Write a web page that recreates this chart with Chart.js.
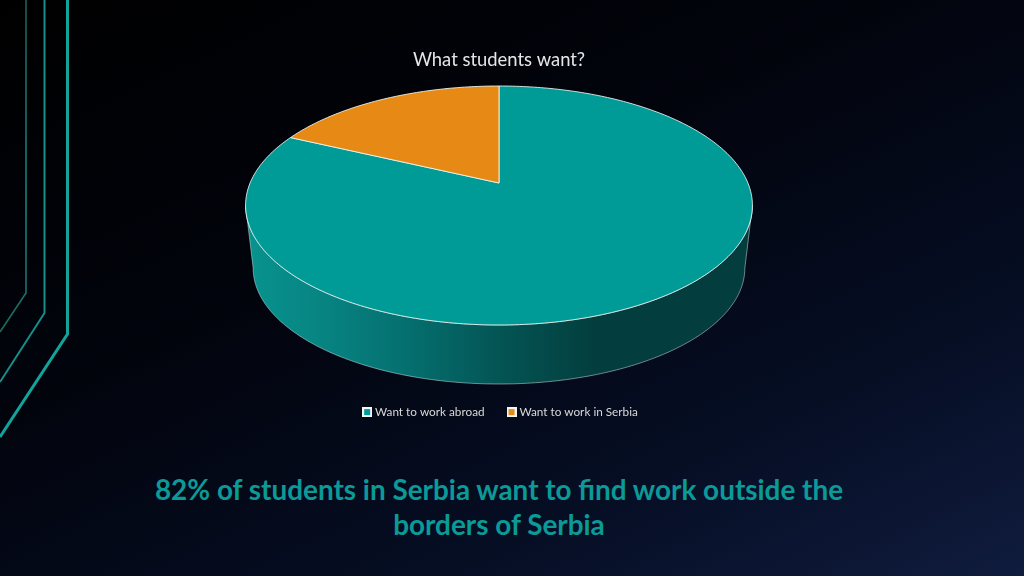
<!DOCTYPE html>
<html>
<head>
<meta charset="utf-8">
<title>What students want?</title>
<script src="https://cdn.jsdelivr.net/npm/chart.js@4"></script>
<style>
    html, body { margin: 0; padding: 0; width: 1024px; height: 576px; overflow: hidden; }
    body { position: relative; background: linear-gradient(155deg, #000000 0%, #02040d 40%, #060e24 74%, #101c3e 100%); }
    #lines { position: absolute; left: 0; top: 0; }
    #pie { position: absolute; left: 0; top: 0; }
    #note {
        position: absolute; left: 99px; top: 472px; width: 800px; text-align: center;
        font: bold 27.9px/35px Lato, sans-serif; color: #0b9a97;
    }
</style>
</head>
<body>
<svg id="lines" width="100" height="450" fill="none">
    <defs>
        <linearGradient id="innerLine" x1="0" y1="0" x2="0" y2="1">
            <stop offset="0" stop-color="#1d5f57"/>
            <stop offset="0.6" stop-color="#15807c"/>
            <stop offset="1" stop-color="#1d6a5e"/>
        </linearGradient>
    </defs>
    <polyline points="26,0 26,293 0,332" stroke="url(#innerLine)" stroke-width="1.6"/>
    <polyline points="44.5,0 44.5,313 0,382" stroke="#148f8a" stroke-width="2"/>
    <polyline points="67.5,0 67.5,334 0,437" stroke="#12a39b" stroke-width="3"/>
</svg>
<canvas id="pie" width="998" height="428"></canvas>
<div id="note">82% of students in Serbia want to find work outside the<br>borders of Serbia</div>
<script>
const categories = ['Want to work abroad', 'Want to work in Serbia'];
const shares = [82, 18];
const sliceColors = ['#009a97', '#e68a15'];
const chartTitle = 'What students want?';

// camera used to tilt the flat pie: circle (u,v) -> screen, far side gets smaller
const apexY = 183, halfW = 248.9, halfH = 115.26, tilt = 0.1883;
// bottom rim of the wall
const rimScale = 0.97, rimDrop = 62.6, rimMidY = 205.5;

function project(cx, angle) {
    const u = Math.cos(angle), v = -Math.sin(angle), w = 1 + tilt * v;
    return { x: cx + halfW * u / w, y: apexY - halfH * v / w };
}

function rimPoint(cx, p) {
    return { x: cx + (p.x - cx) * rimScale, y: rimMidY + (p.y - rimMidY) * rimScale + rimDrop };
}

// legend swatch: white frame round the slice colour
function swatch(color) {
    const c = document.createElement('canvas');
    c.width = 10;
    c.height = 10;
    const g = c.getContext('2d');
    g.fillStyle = '#f4f6f6';
    g.fillRect(0, 0, 10, 10);
    g.fillStyle = color;
    g.fillRect(2, 2, 6, 6);
    return c;
}

const tiltedPie = {
    id: 'tiltedPie',
    afterLayout(chart) {
        chart.legend.left += 5;
    },
    beforeDatasetsDraw(chart) {
        const ctx = chart.ctx;
        const arcs = chart.getDatasetMeta(0).data;
        const cx = arcs[0].x;
        const steps = 180;

        // angles of the screen left/right extremes of the tilted circle
        const side = Math.asin(tilt);
        const from = Math.PI - side, to = side;

        // front wall
        const top = [], bottom = [];
        for (let i = 0; i <= steps; i++) {
            const p = project(cx, from + (to - from) * i / steps);
            top.push(p);
            bottom.push(rimPoint(cx, p));
        }
        const wall = ctx.createLinearGradient(cx - 250, 0, cx + 100, 0);
        wall.addColorStop(0, '#08928e');
        wall.addColorStop(0.2, '#078583');
        wall.addColorStop(0.45, '#056f6f');
        wall.addColorStop(0.72, '#045454');
        wall.addColorStop(1, '#033d3d');
        ctx.save();
        ctx.beginPath();
        top.forEach((p, i) => i ? ctx.lineTo(p.x, p.y) : ctx.moveTo(p.x, p.y));
        bottom.slice().reverse().forEach(p => ctx.lineTo(p.x, p.y));
        ctx.closePath();
        ctx.fillStyle = wall;
        ctx.fill();
        ctx.strokeStyle = 'rgba(225,240,240,0.6)';
        ctx.lineWidth = 0.8;
        ctx.stroke();

        // top face, one slice per arc element
        arcs.forEach(arc => {
            const n = Math.max(2, Math.ceil((arc.endAngle - arc.startAngle) * 60));
            ctx.beginPath();
            ctx.moveTo(cx, apexY);
            for (let i = 0; i <= n; i++) {
                const p = project(cx, arc.startAngle + (arc.endAngle - arc.startAngle) * i / n);
                ctx.lineTo(p.x, p.y);
            }
            ctx.closePath();
            ctx.fillStyle = arc.options.backgroundColor;
            ctx.fill();
            ctx.strokeStyle = arc.options.borderColor;
            ctx.lineWidth = arc.options.borderWidth;
            ctx.stroke();
        });
        ctx.restore();
        return false;
    }
};

new Chart(document.getElementById('pie'), {
    type: 'pie',
    data: {
        labels: categories,
        datasets: [{
            data: shares,
            backgroundColor: sliceColors,
            borderColor: 'rgba(240,250,245,0.85)',
            borderWidth: 1
        }]
    },
    plugins: [tiltedPie],
    options: {
        responsive: false,
        animation: false,
        plugins: {
            title: {
                display: true,
                text: chartTitle,
                color: '#e6e6e6',
                font: { family: 'Lato', size: 18.4, weight: 'normal' },
                padding: { top: 49, bottom: 9 }
            },
            legend: {
                position: 'bottom',
                labels: {
                    color: '#d9d9d9',
                    font: { family: 'Lato', size: 11.75 },
                    usePointStyle: true,
                    pointStyleWidth: 4,
                    boxHeight: 10,
                    padding: 25,
                    generateLabels(chart) {
                        return categories.map((c, i) => ({
                            text: c,
                            pointStyle: swatch(sliceColors[i]),
                            fontColor: '#d9d9d9',
                            index: i
                        }));
                    }
                }
            },
            tooltip: { enabled: false }
        }
    }
});
</script>
</body>
</html>
